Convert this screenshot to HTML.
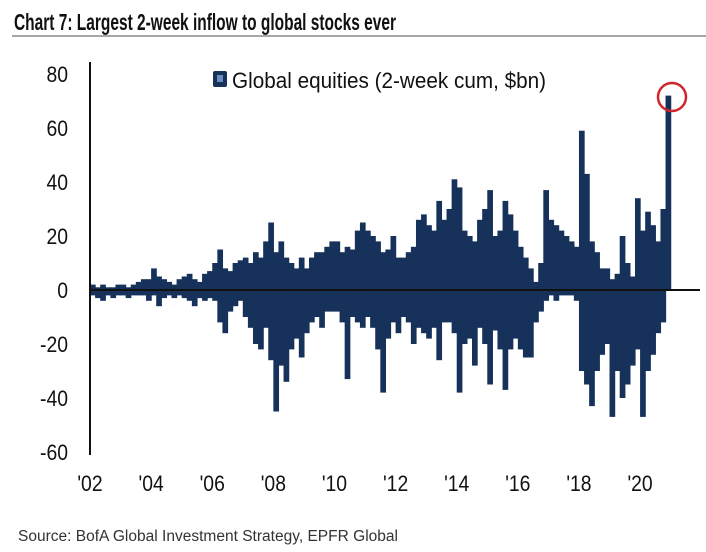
<!DOCTYPE html>
<html><head><meta charset="utf-8"><style>
html,body{margin:0;padding:0;background:#fff;}
body{width:706px;height:547px;overflow:hidden;position:relative;font-family:"Liberation Sans",sans-serif;}
</style></head><body>
<svg width="706" height="547" viewBox="0 0 706 547">
<text x="14" y="30" font-size="23" font-weight="bold" fill="#111" textLength="382" lengthAdjust="spacingAndGlyphs">Chart 7: Largest 2-week inflow to global stocks ever</text>
<line x1="12" y1="36" x2="706" y2="36" stroke="#888" stroke-width="1.5"/>
<g id="bars"></g>
<line x1="90" y1="62" x2="90" y2="455" stroke="#111" stroke-width="2"/>
<line x1="90" y1="290" x2="700" y2="290" stroke="#111" stroke-width="2"/>
<g id="yticks"></g>
<g id="xticks"></g>
<g>
<rect x="213" y="71" width="14" height="16" rx="2" fill="#16315a"/>
<rect x="217" y="75" width="6" height="7" fill="#6a8cc0"/>
<text x="232" y="88" font-size="22" fill="#111" textLength="314" lengthAdjust="spacingAndGlyphs">Global equities (2-week cum, $bn)</text>
</g>
<circle id="hl" cx="672" cy="97" r="14" fill="none" stroke="#d0262b" stroke-width="2.5"/>
<text x="18" y="541" font-size="15.5" fill="#333" textLength="380" lengthAdjust="spacingAndGlyphs">Source: BofA Global Investment Strategy, EPFR Global</text>
</svg>
<script>
const startYear = 2002;
const bucketsPerYear = 6;
const posVals = [2,1,2,1,1,2, 2,1,2,3,4,4, 8,5,4,3,2,4, 5,6,4,3,6,7, 10,15,8,7,10,11, 12,10,14,12,18,25,
 14,18,12,10,8,12, 8,12,14,14,16,18, 18,14,16,15,22,25, 22,20,18,14,15,20, 12,12,14,16,26,28,
 24,22,33,26,30,41, 38,22,20,18,26,30, 37,20,22,33,28,22, 16,12,8,3,10,37, 26,24,22,20,18,16,
 59,43,18,14,8,8, 4,6,20,10,5,34, 22,29,24,18,30,72];
const negVals = [-2,-3,-4,-2,-3,-2, -2,-3,-2,-2,-2,-4, -2,-6,-3,-2,-3,-2, -3,-4,-6,-3,-4,-3, -4,-12,-16,-8,-6,-4, -10,-14,-20,-22,-14,-26,
 -45,-28,-34,-22,-18,-25, -16,-12,-10,-14,-8,-8, -8,-12,-33,-10,-12,-14, -10,-14,-22,-38,-18,-12, -16,-10,-12,-20,-14,-16,
 -18,-14,-26,-12,-12,-16, -38,-20,-18,-28,-14,-20, -35,-15,-22,-37,-22,-18, -22,-25,-25,-12,-8,-4, -2,-4,-2,-2,-2,-4,
 -30,-35,-43,-30,-24,-20, -47,-30,-40,-35,-28,-22, -47,-30,-24,-16,-12,0];
const yTicks = [80,60,40,20,0,-20,-40,-60];
const xTickYears = [2002,2004,2006,2008,2010,2012,2014,2016,2018,2020];
const xTickLabels = ["'02","'04","'06","'08","'10","'12","'14","'16","'18","'20"];

const NS = "http://www.w3.org/2000/svg";
function xScale(yr){ return 90 + (yr - 2002) * 30.56; }
function yScale(v){ return 290 - v * 2.7; }
const bars = document.getElementById('bars');
const bw = 30.56 / bucketsPerYear;
function addBar(x, v, name){
  const r = document.createElementNS(NS,'rect');
  const y0 = yScale(0), y1 = yScale(v);
  r.setAttribute('x', x);
  r.setAttribute('y', Math.min(y0,y1));
  r.setAttribute('width', bw + 0.6);
  r.setAttribute('height', Math.max(0.5, Math.abs(y1-y0)));
  r.setAttribute('fill', '#16315a');
  
  
  bars.appendChild(r);
}
posVals.forEach((v,i)=>{
  const x = xScale(startYear + i / bucketsPerYear);
  addBar(x, v, 'inflow-bar');
});
negVals.forEach((v,i)=>{
  const x = xScale(startYear + i / bucketsPerYear);
  addBar(x, v, 'outflow-bar');
});
const yt = document.getElementById('yticks');
yTicks.forEach(v=>{
  const t = document.createElementNS(NS,'text');
  t.setAttribute('x', 68); t.setAttribute('y', yScale(v)+8);
  t.setAttribute('text-anchor','end'); t.setAttribute('font-size','22');
  t.setAttribute('fill','#111');
  t.setAttribute('transform', `translate(${68*0.12},0) scale(0.88,1)`);
  
  
  t.textContent = v;
  yt.appendChild(t);
});
const xt = document.getElementById('xticks');
xTickYears.forEach((yr,i)=>{
  const t = document.createElementNS(NS,'text');
  const x = xScale(yr);
  t.setAttribute('x', x); t.setAttribute('y', 491);
  t.setAttribute('text-anchor','middle'); t.setAttribute('font-size','22');
  t.setAttribute('fill','#111');
  t.setAttribute('transform', `translate(${x*0.12},0) scale(0.88,1)`);
  
  
  t.textContent = xTickLabels[i];
  xt.appendChild(t);
});
</script>
</body></html>
